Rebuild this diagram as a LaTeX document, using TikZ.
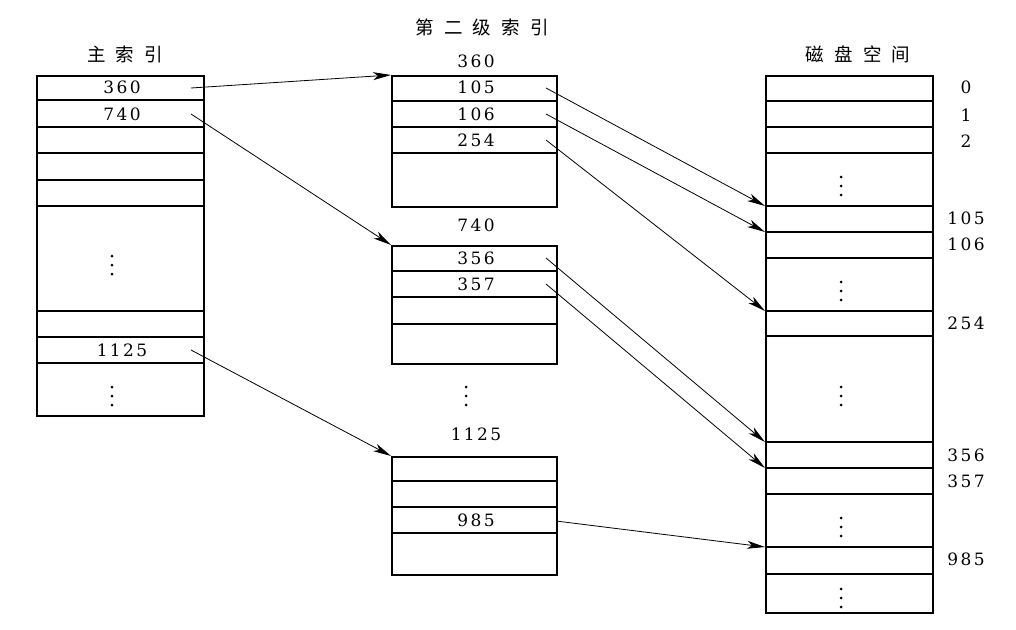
\documentclass[tikz,border=0pt]{standalone}
\usepackage{fontspec}
\usetikzlibrary{arrows.meta,calc}
\newfontfamily\numf[LetterSpace=14]{DejaVu Serif}
\newfontfamily\cjk[LetterSpace=55]{Noto Sans CJK SC}
\tikzset{
  colbox/.style={draw,line width=1.8pt,anchor=north west,inner sep=0pt,minimum width=#1},
  cell/.style={line width=1.1pt},
  num/.style={inner sep=0pt,font=\numf\fontsize{17}{18}\selectfont},
  ttl/.style={inner sep=0pt,font=\cjk\fontsize{18.5}{20}\selectfont},
  arr/.style={line width=0.8pt,-{Stealth[length=18pt,width=8pt,inset=5pt]}},
  vd/.pic={\foreach \d in {-9,0,9} \fill (0,\d) circle (1.5);}
}
\begin{document}
\begin{tikzpicture}[x=1pt,y=-1pt]
\useasboundingbox (0,0) rectangle (1016,629);
% columns
\node[colbox=167pt,minimum height=340pt] (L) at (36,75) {};
\node[colbox=165pt,minimum height=131pt] (M1) at (391,75) {};
\node[colbox=165pt,minimum height=118pt] (M2) at (391,245) {};
\node[colbox=165pt,minimum height=118pt] (M3) at (391,456) {};
\node[colbox=167pt,minimum height=537pt] (R) at (765,75) {};
% inner lines
\foreach \y in {100,127,153,180,206,311,337,363} \draw[cell] (L.west |- 0,\y) -- (L.east |- 0,\y);
\foreach \y in {101,127,153} \draw[cell] (M1.west |- 0,\y) -- (M1.east |- 0,\y);
\foreach \y in {271,297,324} \draw[cell] (M2.west |- 0,\y) -- (M2.east |- 0,\y);
\foreach \y in {481,507,533} \draw[cell] (M3.west |- 0,\y) -- (M3.east |- 0,\y);
\foreach \y in {101,127,153,206,232,258,311,336,442,468,494,547,574} \draw[cell] (R.west |- 0,\y) -- (R.east |- 0,\y);
% titles
\node[ttl] (tL) at (125,54) {主索引};
\node[ttl] (tM) at (482,27) {第二级索引};
\node[ttl] (tR) at (858,54) {磁盘空间};
% left texts
\node[num] (l360) at (122,87) {360};
\node[num] (l740) at (122,114) {740};
\node[num] (l1125) at (122,350) {1125};
% middle texts
\node[num] (h360) at (476,61) {360};
\node[num] (h740) at (476,225) {740};
\node[num] (h1125) at (476,434) {1125};
\node[num] (m105) at (476,87) {105};
\node[num] (m106) at (476,114) {106};
\node[num] (m254) at (476,140) {254};
\node[num] (m356) at (476,258) {356};
\node[num] (m357) at (476,284) {357};
\node[num] (m985) at (476,520) {985};
% right labels
\foreach \t/\y in {0/87,1/115,2/141,105/218,106/244,254/323,356/455,357/481,985/559}
  \node[num] (r\t) at (966,\y) {\t};
% dots
\pic at (112,265) {vd};
\pic at (112,396) {vd};
\pic at (466,396) {vd};
\foreach \y in {186,291,396,527,598} \pic at (841,\y) {vd};
% arrow starts
\coordinate (s1) at (191,88);
\coordinate (s2) at (191,114);
\coordinate (s3) at (191,350);
\coordinate (t1) at (546,88);
\coordinate (t2) at (546,114);
\coordinate (t3) at (546,140);
\coordinate (t4) at (546,258);
\coordinate (t5) at (546,284);
\coordinate (t6) at (556,521);
\coordinate (d105) at (765,206);
\coordinate (d106) at (765,232);
\coordinate (d254) at (765,311);
\coordinate (d356) at (765,442);
\coordinate (d357) at (765,468);
\coordinate (d985) at (765,547);
\draw[arr] (s1) -- (M1.north west);
\draw[arr] (s2) -- (M2.north west);
\draw[arr] (s3) -- (M3.north west);
\draw[arr] (t1) -- (d105);
\draw[arr] (t2) -- (d106);
\draw[arr] (t3) -- (d254);
\draw[arr] (t4) -- (d356);
\draw[arr] (t5) -- (d357);
\draw[arr] (t6) -- (d985);
\end{tikzpicture}
\end{document}
